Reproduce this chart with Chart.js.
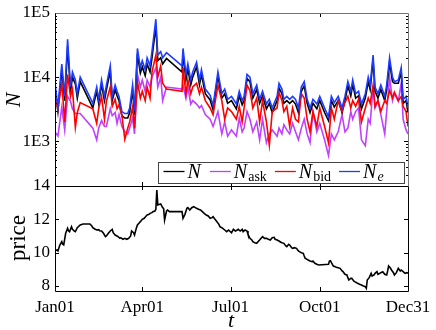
<!DOCTYPE html>
<html>
<head>
<meta charset="utf-8">
<script src="https://cdn.jsdelivr.net/npm/chart.js@4.4.1/dist/chart.umd.min.js"></script>
<style>
  html, body { margin: 0; padding: 0; background: #fff; }
  #wrap { position: relative; width: 436px; height: 330px; }
  #chart-top { position: absolute; left: 0; top: 0; }
  #chart-bot { position: absolute; left: 0; top: 170px; }
</style>
</head>
<body>
<div id="wrap">
  <canvas id="chart-top" width="436" height="186"></canvas>
  <canvas id="chart-bot" width="436" height="160"></canvas>
</div>
<script>
// trading days (day of year) used in the top panel
const days = [
  0, 3, 7, 10, 13, 16, 18, 21, 23, 26,
  39, 43, 45, 48, 51, 53, 57, 59, 62, 64,
  66, 69, 72, 75, 77, 80, 82, 85, 88, 90,
  93, 95, 98, 100, 104, 106, 109, 111, 115, 131,
  132, 135, 137, 140, 142, 146, 149, 151, 155, 160,
  163, 168, 172, 175, 178, 182, 187, 190, 193, 195,
  198, 201, 204, 208, 211, 214, 218, 221, 224, 229,
  231, 234, 236, 239, 242, 245, 248, 251, 254, 257,
  260, 263, 266, 270, 273, 278, 282, 285, 288, 292,
  296, 299, 302, 305, 307, 310, 313, 316, 320, 323,
  325, 328, 330, 333, 336, 340, 342, 345, 348, 350,
  354, 357, 359, 362, 364
];
const nTotal = [
  6500, 2900, 13000, 4300, 30000, 6000, 10000, 7800, 4700, 8500,
  3300, 6000, 3900, 7800, 4300, 6300, 12500, 4300, 6400, 5100,
  4300, 2500, 2300, 2300, 2800, 6300, 2600, 23000, 11500, 14500,
  10500, 16000, 12000, 20000, 62000, 18000, 20000, 16000, 19500, 12000,
  23000, 9000, 13500, 7600, 10000, 14500, 7600, 11000, 5500, 4400,
  3100, 10500, 4700, 5500, 3900, 4300, 3200, 5100, 3700, 4300,
  9500, 8500, 4700, 6400, 3900, 5100, 3200, 3900, 2800, 4300,
  6800, 5500, 3900, 4300, 3900, 4300, 3800, 2800, 6000, 7300,
  3900, 2800, 3900, 3200, 4300, 2800, 2100, 4300, 3400, 4300,
  2800, 4300, 7300, 5100, 7700, 4700, 5100, 3200, 4700, 8500,
  6400, 18500, 6000, 4700, 6400, 4300, 6400, 17000, 8500, 8000,
  8000, 12000, 3900, 4300, 2800
];
const nAsk = [
  1400, 1200, 3400, 1500, 5000, 4200, 3200, 2700, 2700, 2700,
  1600, 1050, 1600, 2100, 1700, 1700, 3200, 2500, 2800, 1900,
  2600, 1700, 1400, 1300, 1600, 2300, 1300, 11000, 7000, 9000,
  6000, 9000, 7000, 10000, 14000, 7000, 10000, 4300, 7000, 6500,
  7500, 4700, 7000, 3800, 4300, 3800, 3300, 3600, 2600, 2200,
  1700, 2900, 1300, 2000, 1200, 1500, 1200, 2300, 1400, 1600,
  2900, 2200, 1400, 2000, 1050, 2200, 950, 1300, 1500, 1200,
  1600, 1300, 1800, 1500, 1300, 1900, 1400, 1050, 1600, 2200,
  1300, 950, 2900, 1400, 1900, 1050, 600, 1300, 1050, 1400,
  2600, 1400, 1600, 2900, 2200, 2900, 3300, 1050, 850, 2200,
  1900, 7000, 3300, 4300, 2600, 1300, 2900, 10000, 4300, 5500,
  4200, 8000, 2200, 1500, 1300
];
const nBid = [
  5200, 3200, 8000, 2000, 11000, 5000, 6500, 1650, 2800, 4000,
  3200, 1900, 3200, 5000, 2200, 4200, 7000, 3500, 4500, 3200,
  3700, 2500, 1070, 1600, 2000, 3400, 1600, 8500, 4700, 6000,
  4300, 7000, 4700, 12000, 22000, 10000, 15000, 8000, 6500, 6000,
  14000, 5500, 9000, 5500, 7000, 8000, 5500, 7000, 4300, 3300,
  2600, 7500, 4300, 2200, 3300, 2900, 2200, 3500, 2000, 3300,
  7500, 6200, 3300, 4700, 2000, 4300, 2000, 870, 2900, 3300,
  5800, 4300, 2900, 3500, 1700, 3300, 2200, 2000, 5500, 4700,
  2200, 1400, 2900, 1700, 3300, 1700, 950, 3300, 2200, 4300,
  2900, 4000, 5000, 3300, 4300, 3500, 4500, 2000, 3300, 4700,
  3900, 7500, 3500, 4300, 2900, 4300, 3900, 6200, 4700, 5800,
  4300, 5000, 3500, 2900, 1700
];
const nE = [
  8000, 3400, 16000, 5000, 39000, 7000, 12000, 9000, 5500, 10000,
  3900, 7000, 4500, 9000, 5000, 7500, 15000, 5000, 7500, 6000,
  5000, 2900, 2700, 2700, 3300, 7500, 3000, 28000, 14000, 18000,
  13000, 20000, 15000, 25000, 80000, 22000, 25000, 20000, 24000, 15000,
  28000, 11000, 16000, 9000, 12000, 17000, 9000, 13000, 6500, 5200,
  3600, 12000, 5500, 6500, 4500, 5000, 3800, 6000, 4300, 5000,
  11000, 10000, 5500, 7500, 4500, 6000, 3800, 4500, 3300, 5000,
  8000, 6500, 4500, 5000, 4500, 5000, 4500, 3300, 7000, 8500,
  4500, 3300, 4500, 3800, 5000, 3300, 2400, 5000, 4000, 5000,
  3300, 5000, 8500, 6000, 9000, 5500, 6000, 3800, 5500, 10000,
  7500, 22000, 7000, 5500, 7500, 5000, 7500, 20000, 10000, 8500,
  9000, 14000, 4500, 5000, 3300
];

// price panel
const priceDays = [
  0, 2, 3, 5, 7, 8, 9, 11, 13, 14, 15, 17, 18, 20, 21, 23, 26, 29, 36, 38,
  39, 41, 43, 45, 46, 48, 50, 52, 53, 55, 57, 59, 60, 62, 64, 65, 67, 68, 70, 72,
  74, 76, 78, 79, 81, 82, 84, 85, 87, 88, 90, 92, 94, 95, 97, 98, 100, 101, 103, 104,
  105, 106, 108, 109, 111, 112, 113, 115, 116, 118, 131, 132, 134, 136, 137, 139, 141, 143, 146, 148,
  150, 152, 153, 155, 156, 158, 160, 162, 163, 165, 167, 169, 170, 172, 173, 175, 177, 179, 180, 182,
  184, 186, 188, 189, 191, 193, 194, 196, 198, 199, 201, 203, 204, 206, 208, 210, 211, 213, 214, 216,
  218, 220, 222, 224, 226, 227, 229, 231, 232, 234, 236, 238, 239, 241, 242, 244, 245, 247, 249, 251,
  252, 254, 256, 257, 258, 260, 261, 263, 265, 266, 268, 270, 272, 282, 283, 284, 286, 287, 289, 290,
  292, 294, 296, 297, 299, 301, 302, 303, 305, 306, 308, 309, 311, 312, 314, 316, 318, 320, 321, 322,
  324, 326, 327, 329, 330, 332, 333, 335, 336, 338, 340, 342, 343, 344, 346, 347, 349, 350, 352, 354,
  356, 357, 359, 361, 363, 364
];
const priceVals = [
  10.12, 10.16, 10.1, 10.46, 10.66, 10.5, 10.46, 11.16, 11.46, 11.3, 11.26, 11.56, 11.4, 11.3, 11.26, 11.5, 11.66, 11.72, 11.72, 11.6,
  11.5, 11.42, 11.36, 11.38, 11.32, 11.3, 11.16, 10.96, 11.0, 11.16, 11.3, 11.4, 11.2, 11.06, 11.0, 10.96, 10.86, 10.9, 10.8, 10.86,
  10.8, 10.86, 11.0, 11.3, 11.2, 11.06, 11.5, 11.66, 11.8, 11.86, 12.0, 12.06, 12.2, 12.26, 12.3, 12.36, 12.4, 12.46, 12.5, 12.6,
  13.76, 12.86, 12.9, 12.92, 12.7, 12.66, 11.96, 12.5, 12.56, 12.46, 12.46, 12.06, 12.3, 12.66, 12.7, 12.56, 12.7, 12.76, 12.66, 12.6,
  12.56, 12.46, 12.4, 12.3, 12.26, 12.2, 12.06, 12.1, 12.16, 12.0, 11.86, 11.7, 11.56, 11.5, 11.46, 11.36, 11.26, 11.36, 11.3, 11.2,
  11.4, 11.3, 11.36, 11.4, 11.3, 11.4, 11.26, 11.36, 11.3, 11.1, 10.86, 10.76, 10.66, 10.6, 10.56, 10.7, 10.76, 10.9, 10.96, 10.86,
  10.86, 10.8, 10.76, 10.9, 10.92, 10.8, 10.76, 10.7, 10.66, 10.6, 10.56, 10.4, 10.36, 10.5, 10.46, 10.3, 10.26, 10.3, 10.26, 10.1,
  10.06, 10.0, 9.96, 9.8, 9.66, 9.6, 9.56, 9.5, 9.46, 9.5, 9.36, 9.3, 9.26, 9.3, 9.5, 9.52, 9.3, 9.2, 9.16, 9.12,
  9.1, 9.06, 8.9, 8.86, 8.7, 8.66, 8.5, 8.36, 8.46, 8.46, 8.3, 8.26, 8.2, 8.16, 8.1, 8.06, 8.0, 7.96, 7.86, 8.36,
  8.5, 8.76, 8.6, 8.66, 8.76, 8.86, 8.7, 8.76, 8.8, 8.86, 8.7, 8.66, 8.9, 9.2, 9.06, 8.96, 8.8, 8.66, 8.8, 9.06,
  8.9, 8.96, 8.86, 8.76, 8.8, 8.76
];

// axis ticks
const xTickDays = [0, 90, 181, 273, 364];
const xTickLabels = ['Jan01', 'Apr01', 'Jul01', 'Oct01', 'Dec31'];
const nTicks = [1e3, 1e4, 1e5];
const nTickLabels = ['1E3', '1E4', '1E5'];
const nMinorTicks = [300, 400, 500, 600, 700, 800, 900, 2e3, 3e3, 4e3, 5e3, 6e3, 7e3, 8e3, 9e3, 2e4, 3e4, 4e4, 5e4, 6e4, 7e4, 8e4, 9e4];
const priceTicks = [8, 10, 12, 14];

const SERIF = "'Liberation Serif', 'DejaVu Serif', serif";
Chart.defaults.font.family = SERIF;
Chart.defaults.color = '#000';

const pts = (xs, ys) => xs.map((x, i) => ({ x, y: ys[i] }));

// fixed axis size, and no extra room for half labels at the ends
const fixWidth = w => s => { s.width = w; s.paddingTop = 0; s.paddingBottom = 0; };
const fixHeight = h => s => { s.height = h; s.paddingLeft = 0; s.paddingRight = 0; };

// box with inward ticks, MATLAB style
const framePlugin = {
  id: 'frame',
  afterDatasetsDraw(chart, args, opts) {
    const { ctx, chartArea: a } = chart;
    const xs = chart.scales.x, ys = chart.scales.y;
    ctx.save();
    ctx.lineWidth = 1;
    ctx.strokeStyle = '#000';
    ctx.beginPath();
    opts.xTicks.forEach(v => {
      const px = Math.round(xs.getPixelForValue(v)) + 0.5;
      ctx.moveTo(px, a.top); ctx.lineTo(px, a.top + 4);
      ctx.moveTo(px, a.bottom); ctx.lineTo(px, a.bottom - 4);
    });
    opts.yMajor.forEach(v => {
      const py = Math.round(ys.getPixelForValue(v)) + 0.5;
      ctx.moveTo(a.left, py); ctx.lineTo(a.left + 4, py);
      ctx.moveTo(a.right, py); ctx.lineTo(a.right - 4, py);
    });
    (opts.yMinor || []).forEach(v => {
      const py = Math.round(ys.getPixelForValue(v)) + 0.5;
      ctx.moveTo(a.left, py); ctx.lineTo(a.left + 2, py);
      ctx.moveTo(a.right, py); ctx.lineTo(a.right - 2, py);
    });
    ctx.stroke();
    const l = Math.round(a.left) + 0.5, t = Math.round(a.top) + 0.5;
    const r = Math.round(a.right) + 0.5, b = Math.round(a.bottom) + 0.5;
    ctx.strokeStyle = opts.topColor || '#000';
    ctx.beginPath(); ctx.moveTo(l, t); ctx.lineTo(r, t); ctx.lineTo(r, b); ctx.stroke();
    ctx.strokeStyle = '#000';
    ctx.beginPath(); ctx.moveTo(l, t); ctx.lineTo(l, b); ctx.lineTo(r, b); ctx.stroke();
    ctx.restore();
  }
};

// axis titles, drawn as text
const titlesPlugin = {
  id: 'titles',
  afterDraw(chart, args, opts) {
    const ctx = chart.ctx;
    ctx.save();
    ctx.fillStyle = '#000';
    ctx.textAlign = 'center';
    ctx.textBaseline = 'middle';
    (opts.items || []).forEach(it => {
      ctx.save();
      ctx.translate(it.x, it.y);
      if (it.rot) ctx.rotate(it.rot);
      ctx.font = it.font;
      ctx.fillText(it.text, 0, 0);
      ctx.restore();
    });
    ctx.restore();
  }
};

const legendItems = [
  { color: '#000000', main: 'N', sub: '' },
  { color: '#bf40ff', main: 'N', sub: 'ask' },
  { color: '#ff0000', main: 'N', sub: 'bid' },
  { color: '#1e3cff', main: 'N', sub: 'e', subItalic: true }
];

const legendPlugin = {
  id: 'texLegend',
  afterDraw(chart) {
    const ctx = chart.ctx;
    const bx = 158.5, by = 162.5, bw = 246, bh = 21;
    ctx.save();
    ctx.fillStyle = '#fff';
    ctx.fillRect(bx, by, bw, bh);
    ctx.strokeStyle = '#444';
    ctx.lineWidth = 1;
    ctx.strokeRect(bx, by, bw, bh);
    let x = bx + 5;
    const ly = 171.5, ty = 178;
    legendItems.forEach(it => {
      ctx.strokeStyle = it.color;
      ctx.lineWidth = 1.3;
      ctx.beginPath(); ctx.moveTo(x, ly); ctx.lineTo(x + 21, ly); ctx.stroke();
      x += 24;
      ctx.fillStyle = '#000';
      ctx.textBaseline = 'alphabetic';
      ctx.textAlign = 'left';
      ctx.font = 'italic 20px ' + SERIF;
      ctx.fillText(it.main, x, ty);
      x += ctx.measureText(it.main).width + 1;
      if (it.sub) {
        ctx.font = (it.subItalic ? 'italic ' : '') + '14px ' + SERIF;
        ctx.fillText(it.sub, x, ty + 3);
        x += ctx.measureText(it.sub).width;
      }
      x += 8;
    });
    ctx.restore();
  }
};

function lineSet(label, data, color) {
  return {
    label, data,
    borderColor: color,
    backgroundColor: color,
    borderWidth: 1.6,
    pointRadius: 0,
    tension: 0,
    fill: false,
  };
}

function initCharts() {
  const topCtx = document.getElementById('chart-top').getContext('2d');
  new Chart(topCtx, {
    type: 'line',
    data: {
      datasets: [
        lineSet('Ne', pts(days, nE), '#1e3cff'),
        lineSet('Nbid', pts(days, nBid), '#ff0000'),
        lineSet('N', pts(days, nTotal), '#000000'),
        lineSet('Nask', pts(days, nAsk), '#bf40ff'),
      ],
    },
    options: {
      responsive: false,
      animation: false,
      layout: { padding: { top: 13, right: 28, bottom: 0, left: 0 } },
      plugins: {
        legend: { display: false },
        tooltip: { enabled: false },
        frame: { xTicks: xTickDays.slice(1, -1), yMajor: nTicks, yMinor: nMinorTicks, topColor: '#777' },
        titles: { items: [{ text: 'N', x: 14, y: 100, rot: -Math.PI / 2, font: 'italic 22px ' + SERIF }] },
      },
      scales: {
        x: { type: 'linear', min: 0, max: 364, display: false },
        y: {
          type: 'logarithmic', min: 200, max: 100000,
          grid: { display: false, drawTicks: false },
          border: { display: false },
          afterBuildTicks: s => { s.ticks = nTicks.map(v => ({ value: v })); },
          afterFit: fixWidth(55),
          ticks: {
            padding: 5,
            font: { size: 17 },
            callback: (v, i) => nTickLabels[i],
          },
        },
      },
    },
    plugins: [framePlugin, titlesPlugin, legendPlugin],
  });

  const botCtx = document.getElementById('chart-bot').getContext('2d');
  new Chart(botCtx, {
    type: 'line',
    data: {
      datasets: [lineSet('price', pts(priceDays, priceVals), '#000000')],
    },
    options: {
      responsive: false,
      animation: false,
      layout: { padding: { top: 16, right: 28, bottom: 0, left: 0 } },
      plugins: {
        legend: { display: false },
        tooltip: { enabled: false },
        frame: { xTicks: xTickDays.slice(1, -1), yMajor: priceTicks },
        titles: {
          items: [
            { text: 'price', x: 19, y: 68, rot: -Math.PI / 2, font: '23px ' + SERIF },
            { text: 't', x: 231, y: 151, font: 'italic 22px ' + SERIF },
          ],
        },
      },
      scales: {
        x: {
          type: 'linear', min: 0, max: 364,
          grid: { display: false, drawTicks: false },
          border: { display: false },
          afterBuildTicks: s => { s.ticks = xTickDays.map(v => ({ value: v })); },
          afterFit: fixHeight(39),
          ticks: {
            padding: 6,
            maxRotation: 0,
            autoSkip: false,
            font: { size: 17 },
            callback: (v, i) => xTickLabels[i],
          },
        },
        y: {
          type: 'linear', min: 7.7, max: 14,
          grid: { display: false, drawTicks: false },
          border: { display: false },
          afterBuildTicks: s => { s.ticks = priceTicks.map(v => ({ value: v })); },
          afterFit: fixWidth(55),
          ticks: {
            padding: 5,
            font: { size: 17 },
            callback: (v, i) => String(priceTicks[i]),
          },
        },
      },
    },
    plugins: [framePlugin, titlesPlugin],
  });
}

document.addEventListener('DOMContentLoaded', initCharts);
</script>
</body>
</html>
